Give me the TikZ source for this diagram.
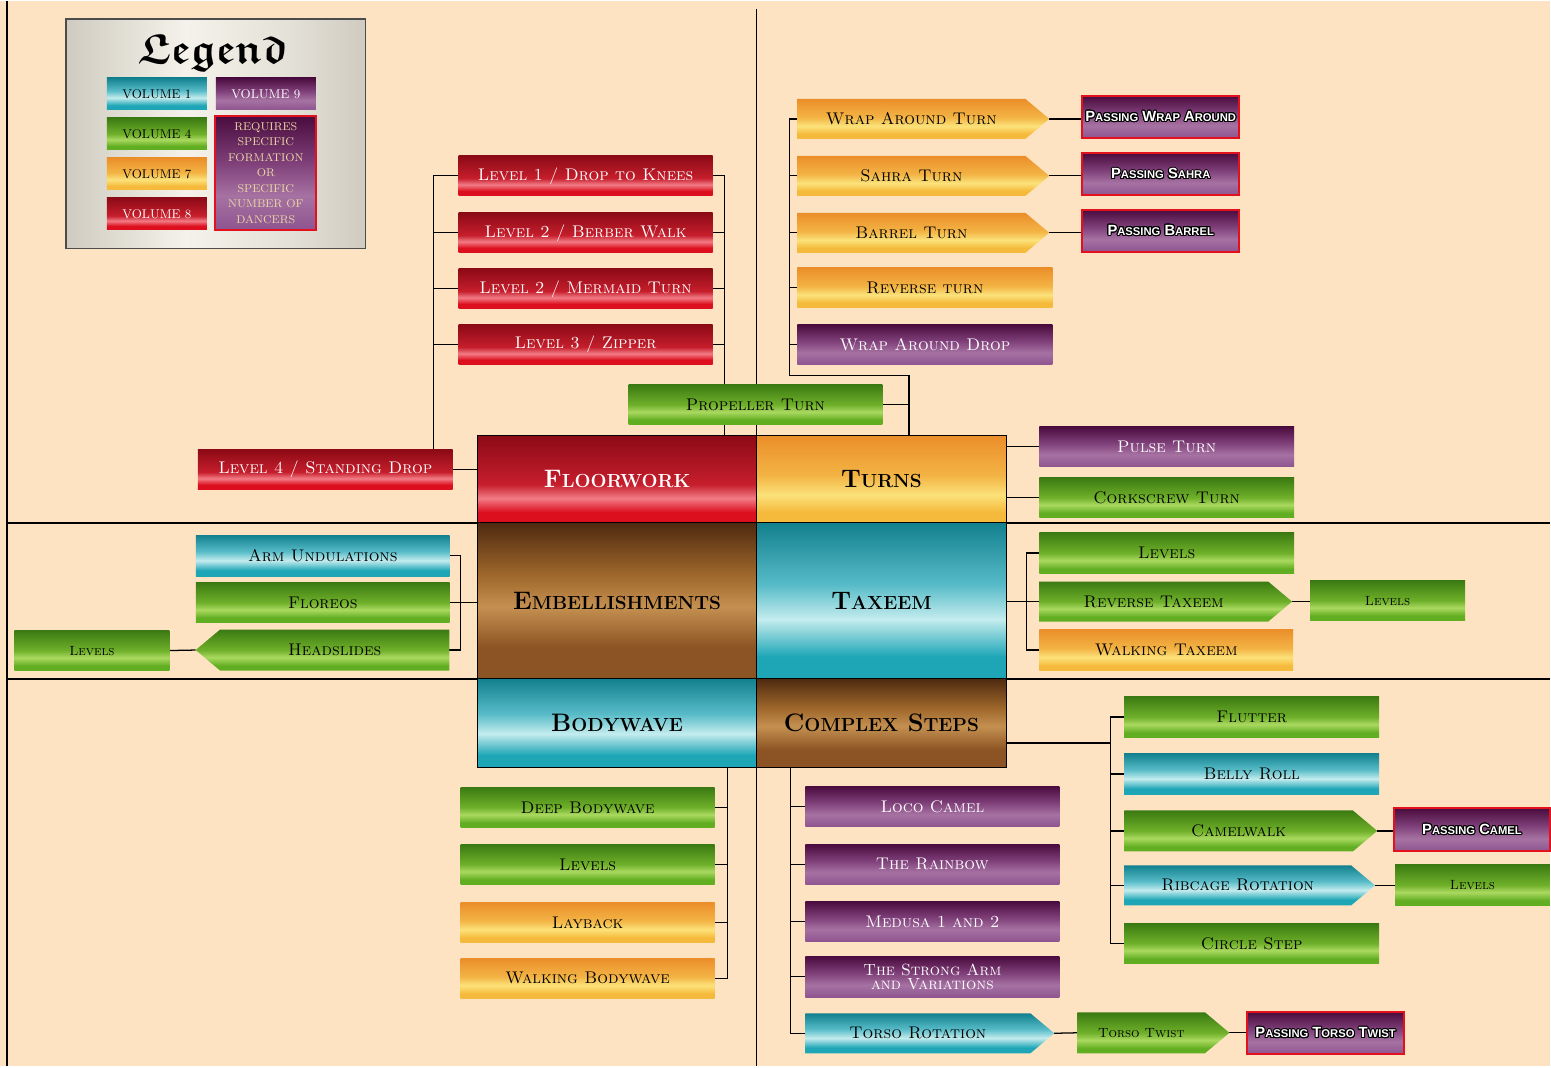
\documentclass[tikz,border=0pt]{standalone}
\usepackage{fontspec}
\usepackage{contour}
\usetikzlibrary{shapes.symbols,calc}
\newfontfamily\passfont{Liberation Sans}
\contourlength{0.7pt}
% paper and ribbon colours
\definecolor{paper}{HTML}{FDE3C1}
\definecolor{passred}{HTML}{E3101E}
\definecolor{gold}{HTML}{EAD9A4}
\definecolor{rdA}{HTML}{8C0A16}\definecolor{rdM}{HTML}{C61E2C}\definecolor{rdB}{HTML}{F27C86}\definecolor{rdC}{HTML}{DC0F1E}
\definecolor{gnA}{HTML}{3B7A12}\definecolor{gnM}{HTML}{6FB02A}\definecolor{gnB}{HTML}{AAD960}\definecolor{gnC}{HTML}{62AE22}
\definecolor{tlA}{HTML}{12808E}\definecolor{tlM}{HTML}{58BCC8}\definecolor{tlB}{HTML}{C4ECEE}\definecolor{tlC}{HTML}{1EA6B6}
\definecolor{orA}{HTML}{EB8E2A}\definecolor{orM}{HTML}{F3B444}\definecolor{orB}{HTML}{FBE27A}\definecolor{orC}{HTML}{F5BA3C}
\definecolor{puA}{HTML}{4A0C3E}\definecolor{puM}{HTML}{7E3E78}\definecolor{puB}{HTML}{A672A2}\definecolor{puC}{HTML}{8E5490}
\definecolor{bnA}{HTML}{4E2A10}\definecolor{bnM}{HTML}{A0682C}\definecolor{bnB}{HTML}{C49050}\definecolor{bnC}{HTML}{8C5424}
\definecolor{svA}{HTML}{CFCBC0}\definecolor{svB}{HTML}{F4F2EA}\definecolor{svC}{HTML}{E4E1D8}
\pgfdeclareverticalshading{ribred}{100bp}{color(0bp)=(rdC); color(25bp)=(rdC); color(31bp)=(rdC); color(39bp)=(rdB); color(47bp)=(rdM); color(75bp)=(rdA); color(100bp)=(rdA)}
\pgfdeclareverticalshading{ribgreen}{100bp}{color(0bp)=(gnC); color(25bp)=(gnC); color(31bp)=(gnC); color(41bp)=(gnB); color(50bp)=(gnM); color(75bp)=(gnA); color(100bp)=(gnA)}
\pgfdeclareverticalshading{ribteal}{100bp}{color(0bp)=(tlC); color(25bp)=(tlC); color(32bp)=(tlC); color(44bp)=(tlB); color(55bp)=(tlM); color(75bp)=(tlA); color(100bp)=(tlA)}
\pgfdeclareverticalshading{ribor}{100bp}{color(0bp)=(orC); color(25bp)=(orC); color(31bp)=(orC); color(41bp)=(orB); color(52bp)=(orM); color(75bp)=(orA); color(100bp)=(orA)}
\pgfdeclareverticalshading{ribpu}{100bp}{color(0bp)=(puC); color(25bp)=(puC); color(40bp)=(puB); color(55bp)=(puM); color(75bp)=(puA); color(100bp)=(puA)}
\pgfdeclareverticalshading{ribbrown}{100bp}{color(0bp)=(bnC); color(25bp)=(bnC); color(35bp)=(bnC); color(48bp)=(bnB); color(58bp)=(bnM); color(75bp)=(bnA); color(100bp)=(bnA)}
\pgfdeclarehorizontalshading{silver}{100bp}{color(0bp)=(svA); color(25bp)=(svA); color(45bp)=(svB); color(62bp)=(svC); color(75bp)=(svA); color(100bp)=(svA)}
\pgfdeclarelayer{paperlayer}
\pgfdeclarelayer{wirelayer}
\pgfsetlayers{paperlayer,wirelayer,main}
\newcommand\twocap[2]{#1{\fontsize{8}{9}\selectfont#2}}
\newcommand\headcap[2]{#1{\fontsize{13.5}{14}\selectfont#2}}
\newcommand\gothword{\usefont{U}{euf}{b}{n}\fontsize{30}{30}\selectfont}
\begin{document}
\begin{tikzpicture}[x=0.025cm,y=-0.025cm,line cap=round,
	bw/.style={minimum width=#1*0.025cm},
	bh/.style={minimum height=#1*0.025cm},
	box/.style={inner sep=0pt,outer sep=0pt,bw=254,bh=40,font=\scshape\fontsize{12}{13}\selectfont},
	sbox/.style={box,bw=155,font=\scshape\fontsize{9.5}{10}\selectfont},
	ptr/.style={shape=signal,signal to=east,signal from=nowhere,signal pointer angle=80},
	ptl/.style={shape=signal,signal to=west,signal from=nowhere,signal pointer angle=80},
	rd/.style={shade,shading=ribred,text=white},
	gn/.style={shade,shading=ribgreen,text=black},
	tl/.style={shade,shading=ribteal,text=black},
	og/.style={shade,shading=ribor,text=black},
	pp/.style={shade,shading=ribpu,text=white},
	bn/.style={shade,shading=ribbrown,text=black},
	pass/.style={pp,draw=passred,line width=1.5pt,inner sep=0pt,bw=157,bh=42,font=\passfont\bfseries\fontsize{10.5}{12}\selectfont},
	ctr/.style={draw=black,line width=0.6pt,inner sep=0pt,bw=279,font=\bfseries\fontsize{18}{19}\selectfont},
	wire/.style={line width=0.9pt},
	rule/.style={line width=1.4pt}]
	\begin{pgfonlayer}{paperlayer}
	\fill[paper] (0,0) rectangle (1551,1066);
	\end{pgfonlayer}
	% legend
	\node[draw=black!70,line width=0.8pt,shade,shading=silver,bw=300,bh=230] (lg) at (216,133) {};
	\node[font=\gothword] (lgt) at (213,52) {Legend};
	\node[box,tl,bw=100,bh=32,font=\fontsize{9}{10}\selectfont] (v1) at (157,93) {VOLUME 1};
	\node[box,pp,bw=100,bh=32,font=\fontsize{9}{10}\selectfont] (v9) at (266,93) {VOLUME 9};
	\node[box,gn,bw=100,bh=32,font=\fontsize{9}{10}\selectfont] (v4) at (157,133) {VOLUME 4};
	\node[box,og,bw=100,bh=32,font=\fontsize{9}{10}\selectfont] (v7) at (157,173) {VOLUME 7};
	\node[box,rd,bw=100,bh=32,font=\fontsize{9}{10}\selectfont] (v8) at (157,213) {VOLUME 8};
	\node[pp,draw=passred,line width=1.5pt,inner sep=0pt,bw=101,bh=114,text=gold,align=center,font=\fontsize{8}{11}\selectfont] (rq) at (266,172) {REQUIRES\\SPECIFIC\\FORMATION\\OR\\SPECIFIC\\NUMBER OF\\DANCERS};
	% the six families
	\node[ctr,rd,text=white,bh=87] (fw) at (617.5,478.5) {\headcap{F}{LOORWORK}};
	\node[ctr,og,bw=250,bh=87] (tu) at (882,478.5) {\headcap{T}{URNS}};
	\node[ctr,bn,bh=156] (em) at (617.5,600) {\headcap{E}{MBELLISHMENTS}};
	\node[ctr,tl,bw=250,bh=156] (tx) at (882,600) {\headcap{T}{AXEEM}};
	\node[ctr,tl,bh=89] (bw) at (617.5,722.5) {\headcap{B}{ODYWAVE}};
	\node[ctr,bn,bw=250,bh=89] (cs) at (882,722.5) {\headcap{C}{OMPLEX} \headcap{S}{TEPS}};
	% floorwork
	\node[box,rd] (lv1) at (586,175) {Level 1 / Drop to Knees};
	\node[box,rd] (lv2) at (586,232) {Level 2 / Berber Walk};
	\node[box,rd] (lv2m) at (586,288) {Level 2 / Mermaid Turn};
	\node[box,rd] (lv3) at (586,344) {Level 3 / Zipper};
	\node[box,rd,bw=255] (lv4) at (325.5,469) {Level 4 / Standing Drop};
	\node[box,gn] (pr) at (756,404) {Propeller Turn};
	% turns
	\node[box,og,ptr,bw=252] (t1) at (912,118) {Wrap Around Turn};
	\node[box,og,ptr,bw=252] (t2) at (912,175) {Sahra Turn};
	\node[box,og,ptr,bw=252] (t3) at (912,232) {Barrel Turn};
	\node[box,og,bw=255] (t4) at (925.5,287) {Reverse turn};
	\node[box,pp,bw=255] (t5) at (925.5,344) {Wrap Around Drop};
	\node[pass] (p1) at (1161.5,116) {\contour{black}{\twocap{P}{ASSING} \twocap{W}{RAP} \twocap{A}{ROUND}}};
	\node[pass] (p2) at (1161.5,173.5) {\contour{black}{\twocap{P}{ASSING} \twocap{S}{AHRA}}};
	\node[pass] (p3) at (1161.5,230) {\contour{black}{\twocap{P}{ASSING} \twocap{B}{ARREL}}};
	\node[box,pp,bw=255] (pu) at (1167.5,446) {Pulse Turn};
	\node[box,gn,bw=255] (ck) at (1167.5,497) {Corkscrew Turn};
	% embellishments
	\node[box,tl,bh=41] (au) at (323,555) {Arm Undulations};
	\node[box,gn] (fl) at (323,602) {Floreos};
	\node[box,gn,ptl,bh=41] (hs) at (335,649.5) {Headslides};
	\node[sbox,gn] (el) at (92,650) {Levels};
	% taxeem
	\node[box,gn,bw=255,bh=41] (txl) at (1167.5,552.5) {Levels};
	\node[box,gn,ptr,bw=253] (rt) at (1154.5,601) {Reverse Taxeem};
	\node[box,og,bh=41] (wt) at (1167,649.5) {Walking Taxeem};
	\node[sbox,gn] (rl) at (1388.5,600) {Levels};
	% bodywave
	\node[box,gn] (db) at (588,807) {Deep Bodywave};
	\node[box,gn] (bl) at (588,864) {Levels};
	\node[box,og] (lb) at (588,922) {Layback};
	\node[box,og] (wb) at (588,978) {Walking Bodywave};
	% complex steps
	\node[box,pp] (lc) at (933,806) {Loco Camel};
	\node[box,pp] (rb) at (933,864) {The Rainbow};
	\node[box,pp] (md) at (933,921) {Medusa 1 and 2};
	\node[box,pp,bh=41,align=center,font=\scshape\fontsize{11.5}{10}\selectfont] (sa) at (933,976.5) {The Strong Arm\\and Variations};
	\node[box,tl,ptr,bw=249] (tr) at (918.5,1033) {Torso Rotation};
	\node[sbox,gn,ptr,bw=152,bh=41] (tt) at (1142,1032.5) {Torso Twist};
	\node[pass] (pt) at (1326.5,1033) {\contour{black}{\twocap{P}{ASSING} \twocap{T}{ORSO} \twocap{T}{WIST}}};
	\node[box,gn,bw=255,bh=41] (fu) at (1252.5,716.5) {Flutter};
	\node[box,tl,bw=255,bh=41] (br) at (1252.5,773.5) {Belly Roll};
	\node[box,gn,ptr,bw=253,bh=41] (cw) at (1239.5,830.5) {Camelwalk};
	\node[box,tl,ptr,bw=251] (rr) at (1238.5,885) {Ribcage Rotation};
	\node[box,gn,bw=255] (ci) at (1252.5,943) {Circle Step};
	\node[pass,bw=156,bh=43] (pc) at (1473,829.5) {\contour{black}{\twocap{P}{ASSING} \twocap{C}{AMEL}}};
	\node[sbox,gn,bh=41] (cl) at (1473.5,884.5) {Levels};
	% rules and connectors
	\begin{pgfonlayer}{wirelayer}
	\draw[rule] (7,0) -- (7,1066) (757,8) -- (757,1066) (7,522) -- (1551,522) (7,678) -- (1551,678);
	\draw[wire] (lv1.west) -- ++(-25,0) coordinate (fa) -- (fa |- lv4.north);
	\draw[wire] (lv2.west) -- (lv2.west -| fa) (lv2m.west) -- (lv2m.west -| fa) (lv3.west) -- (lv3.west -| fa);
	\draw[wire] (lv1.east) -- ++(12,0) coordinate (fb) -- (fb |- fw.north);
	\draw[wire] (lv2.east) -- (lv2.east -| fb) (lv2m.east) -- (lv2m.east -| fb) (lv3.east) -- (lv3.east -| fb);
	\draw[wire] (lv4.east) -- (lv4.east -| fw.west);
	\coordinate (tk) at ($(tu.north west)+(153,0)$);
	\draw[wire] (t1.west) -- ++(-8,0) coordinate (ta) -- ($(ta |- t5.south)+(0,11)$) -| (tk);
	\draw[wire] (t2.west) -- (t2.west -| ta) (t3.west) -- (t3.west -| ta) (t4.west) -- (t4.west -| ta) (t5.west) -- (t5.west -| ta);
	\draw[wire] (pr.east) -- (pr.east -| tk);
	\draw[wire] (t1.east) -- (t1.east -| p1.west) (t2.east) -- (t2.east -| p2.west) (t3.east) -- (t3.east -| p3.west);
	\draw[wire] (pu.west -| tu.east) -- (pu.west) (ck.west -| tu.east) -- (ck.west);
	\draw[wire] (au.east) -- ++(11,0) coordinate (ea) |- (hs.east);
	\draw[wire] (fl.east) -- (fl.east -| em.west);
	\draw[wire] (el.east) -- (hs.west);
	\draw[wire] (txl.west) -- ++(-13,0) coordinate (xa) |- (wt.west);
	\draw[wire] (rt.west -| tx.east) -- (rt.west);
	\draw[wire] (rt.east) -- (rt.east -| rl.west);
	\draw[wire] (db.east) -- ++(13,0) coordinate (ba);
	\draw[wire] (ba |- bw.south) |- (wb.east);
	\draw[wire] (bl.east) -- (bl.east -| ba) (lb.east) -- (lb.east -| ba);
	\draw[wire] (lc.west) -- ++(-15,0) coordinate (ca);
	\draw[wire] (ca |- cs.south) |- (tr.west);
	\draw[wire] (rb.west) -- (rb.west -| ca) (md.west) -- (md.west -| ca) (sa.west) -- (sa.west -| ca);
	\draw[wire] (tr.east) -- (tt.west);
	\draw[wire] (tt.east) -- (tt.east -| pt.west);
	\draw[wire] (fu.west) -- ++(-14,0) coordinate (cb) |- (ci.west);
	\draw[wire] ($(cs.east)+(0,20)$) -| (cb);
	\draw[wire] (br.west) -- (br.west -| cb) (cw.west) -- (cw.west -| cb) (rr.west) -- (rr.west -| cb);
	\draw[wire] (cw.east) -- (cw.east -| pc.west);
	\draw[wire] (rr.east) -- (rr.east -| cl.west);
	\end{pgfonlayer}
\end{tikzpicture}
\end{document}
